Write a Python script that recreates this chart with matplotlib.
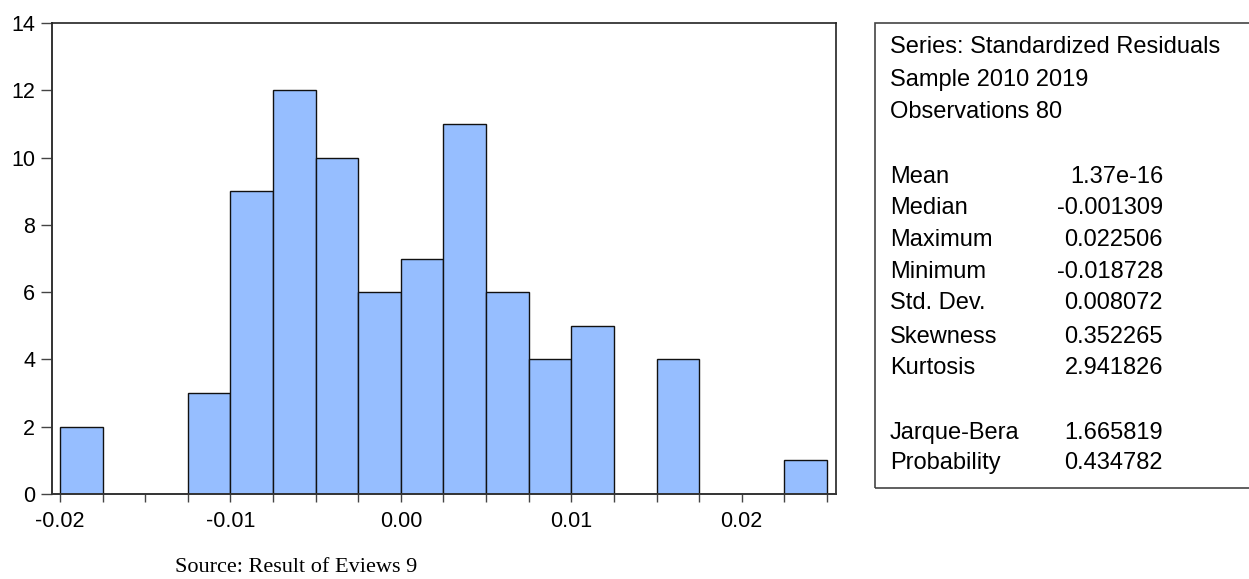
import matplotlib
matplotlib.use("Agg")
import matplotlib.pyplot as plt
from matplotlib.patches import Rectangle
import numpy as np

# Datos del histograma (EViews, ancho de clase 0.0025)
bin_edges = [-0.02, -0.0175, -0.015, -0.0125, -0.01, -0.0075, -0.005, -0.0025,
             0.0, 0.0025, 0.005, 0.0075, 0.01, 0.0125, 0.015, 0.0175, 0.02,
             0.0225, 0.025]
counts = [2, 0, 0, 3, 9, 12, 10, 6, 7, 11, 6, 4, 5, 0, 4, 0, 0, 1]

x_ticks = [-0.02, -0.01, 0.00, 0.01, 0.02]
x_tick_labels = ["-0.02", "-0.01", "0.00", "0.01", "0.02"]
y_ticks = [0, 2, 4, 6, 8, 10, 12, 14]

stat_names = ["Mean", "Median", "Maximum", "Minimum", "Std. Dev.",
              "Skewness", "Kurtosis"]
stat_values = ["1.37e-16", "-0.001309", "0.022506", "-0.018728",
               "0.008072", "0.352265", "2.941826"]
test_names = ["Jarque-Bera", "Probability"]
test_values = ["1.665819", "0.434782"]
header_lines = ["Series: Standardized Residuals", "Sample 2010 2019",
                "Observations 80"]

plt.rcParams["font.family"] = ["Liberation Sans", "DejaVu Sans"]

W, H = 1249, 579
fig = plt.figure(figsize=(W / 100, H / 100), dpi=100)
ax = fig.add_axes([52 / W, 1 - 494 / H, (836 - 52) / W, (494 - 23) / H])

# Barras del histograma
lefts = np.array(bin_edges[:-1])
widths = np.diff(bin_edges)
for l, w, c in zip(lefts, widths, counts):
    if c > 0:
        ax.bar(l, c, width=w, align="edge", color="#96BEFF",
               edgecolor="#111111", linewidth=1.0)

ax.set_xlim(-0.02047, 0.02553)
ax.set_ylim(0, 14)
ax.set_xticks(x_ticks)
ax.set_xticklabels(x_tick_labels)
ax.set_xticks(bin_edges, minor=True)
ax.set_yticks(y_ticks)
ax.tick_params(axis="x", which="both", direction="out", length=6,
               width=1.0, color="#444444", labelsize=15.5, pad=6)
ax.tick_params(axis="y", direction="out", length=8, width=1.0,
               color="#444444", labelsize=15.5, pad=4)
for lado in ["left", "bottom"]:
    ax.spines[lado].set_linewidth(1.4)
    ax.spines[lado].set_color("#333333")
for lado in ["top", "right"]:
    ax.spines[lado].set_linewidth(1.2)
    ax.spines[lado].set_color("#222222")

# Cuadro de estadísticas
caja = Rectangle((875 / W, 1 - 488 / H), 1.0, (488 - 23) / H,
                 transform=fig.transFigure, fill=False,
                 edgecolor="#444444", linewidth=1.2, clip_on=False)
fig.patches.append(caja)

x_lab = 890 / W
x_val = 1163 / W
fs = 17
y_header = [47, 80, 112]
for y, t in zip(y_header, header_lines):
    fig.text(x_lab, 1 - y / H, t, fontsize=fs, va="center", ha="left")

y_stats = [177, 208, 240, 272, 303, 337, 368]
for y, n, v in zip(y_stats, stat_names, stat_values):
    fig.text(x_lab, 1 - y / H, n, fontsize=fs, va="center", ha="left")
    fig.text(x_val, 1 - y / H, v, fontsize=fs, va="center", ha="right")

y_tests = [433, 463]
for y, n, v in zip(y_tests, test_names, test_values):
    fig.text(x_lab, 1 - y / H, n, fontsize=fs, va="center", ha="left")
    fig.text(x_val, 1 - y / H, v, fontsize=fs, va="center", ha="right")

# Fuente
fig.text(175 / W, 1 - 567 / H, "Source: Result of Eviews 9",
         fontsize=16, va="center", ha="left",
         family=["Liberation Serif", "DejaVu Serif"])

fig.savefig("out.png", dpi=100)
